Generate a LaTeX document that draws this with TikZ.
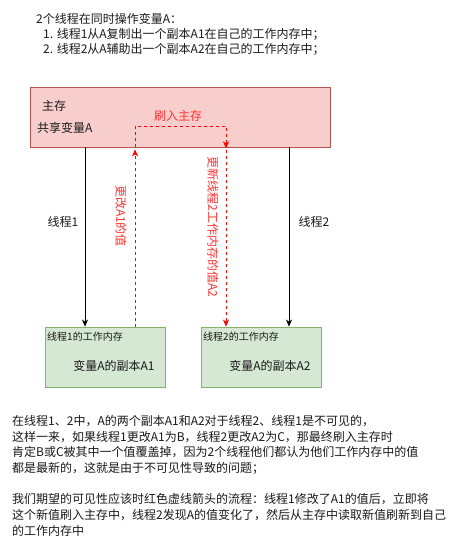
\documentclass[tikz,border=0pt]{standalone}
\usepackage{fontspec}
\setmainfont{Noto Sans CJK SC}
\usetikzlibrary{arrows.meta}
\definecolor{memfill}{HTML}{F8CECC}
\definecolor{memline}{HTML}{B85450}
\definecolor{wfill}{HTML}{D5E8D4}
\definecolor{wline}{HTML}{82B366}
\definecolor{txtc}{HTML}{1A1A1A}
\definecolor{redline}{HTML}{FF0000}
\definecolor{redtxt}{HTML}{FF3333}
\tikzset{
  txt/.style={inner sep=0pt, anchor=west, text=txtc, font=\fontsize{12}{14.4}\selectfont},
  ctxt/.style={inner sep=0pt, text=txtc, font=\fontsize{12}{14.4}\selectfont},
  small/.style={inner sep=0pt, anchor=west, text=txtc, font=\fontsize{10}{12}\selectfont},
  redlbl/.style={inner sep=0pt, text=redtxt, font=\fontsize{12}{14.4}\selectfont},
  membox/.style={draw=memline, fill=memfill, line width=0.8pt, minimum width=300pt, minimum height=60pt, inner sep=0pt},
  wbox/.style={draw=wline, fill=wfill, line width=0.8pt, minimum width=120pt, minimum height=60pt, inner sep=0pt},
  blk/.style={draw=black, line width=0.8pt, -{Stealth[length=7pt,width=6pt,inset=2pt]}},
  reddash/.style={draw=redline, line width=0.8pt, dash pattern=on 3pt off 3pt},
  redarr/.style={reddash, -{Stealth[length=7pt,width=6pt,inset=2pt]}},
}
\begin{document}
\begin{tikzpicture}[x=1pt,y=-1pt]
\useasboundingbox[fill=white] (0,0) rectangle (471,545);

% top text
\node[txt] (t0) at (36,19) {2个线程在同时操作变量A：};
\node[txt] (t1) at (43,34) {1. 线程1从A复制出一个副本A1在自己的工作内存中；};
\node[txt] (t2) at (43,49) {2. 线程2从A辅助出一个副本A2在自己的工作内存中；};

% main memory
\node[membox] (main) at (180,117) {};
\node[txt] (mainlbl) at (42,106) {主存};
\node[txt] (sharelbl) at (37,128) {共享变量A};

% working memories
\node[wbox] (w1) at (105,357) {};
\node[small] (w1lbl) at (47,337) {线程1的工作内存};
\node[ctxt] (w1var) at (114,366) {变量A的副本A1};

\node[wbox] (w2) at (261,357) {};
\node[small] (w2lbl) at (203,337) {线程2的工作内存};
\node[ctxt] (w2var) at (270,366) {变量A的副本A2};

% x positions of connectors
\coordinate (xa) at (85,0);
\coordinate (xb) at (289,0);
\coordinate (xr1) at (135,0);
\coordinate (xr2) at (226,0);
\coordinate (flushtop) at (135,126);
\coordinate (flushcorner) at (226,126);

% black arrows
\draw[blk] (main.south -| xa) -- (w1.north -| xa);
\draw[blk] (main.south -| xb) -- (w2.north -| xb);
\node[ctxt] (l1) at (63,222) {线程1};
\node[ctxt] (l2) at (314,222) {线程2};

% red dashed flow
\draw[redarr] (w1.north -| xr1) -- ([yshift=-2pt]main.south -| xr1);
\draw[redarr] (main.south -| xr1) -- (flushtop) -- (flushcorner) -- ([yshift=-1pt]main.south -| xr2);
\draw[redarr] ([yshift=3pt]main.south -| xr2) -- (w2.north -| xr2);
\node[redlbl] (flushlbl) at (178,116) {刷入主存};
\node[redlbl, rotate=-90] (chg) at (121,216) {更改A1的值};
\node[redlbl, rotate=-90] (upd) at (213,227) {更新线程2工作内存的值A2};

% bottom text
\node[txt] (b1) at (12,421) {在线程1、2中，A的两个副本A1和A2对于线程2、线程1是不可见的，};
\node[txt] (b2) at (12,436.7) {这样一来，如果线程1更改A1为B，线程2更改A2为C，那最终刷入主存时};
\node[txt] (b3) at (12,452.4) {肯定B或C被其中一个值覆盖掉，因为2个线程他们都认为他们工作内存中的值};
\node[txt] (b4) at (12,468.1) {都是最新的，这就是由于不可见性导致的问题；};
\node[txt] (b5) at (12,499.5) {我们期望的可见性应该时红色虚线箭头的流程：线程1修改了A1的值后，立即将};
\node[txt] (b6) at (12,515.2) {这个新值刷入主存中，线程2发现A的值变化了，然后从主存中读取新值刷新到自己};
\node[txt] (b7) at (12,530.9) {的工作内存中};
\end{tikzpicture}
\end{document}
